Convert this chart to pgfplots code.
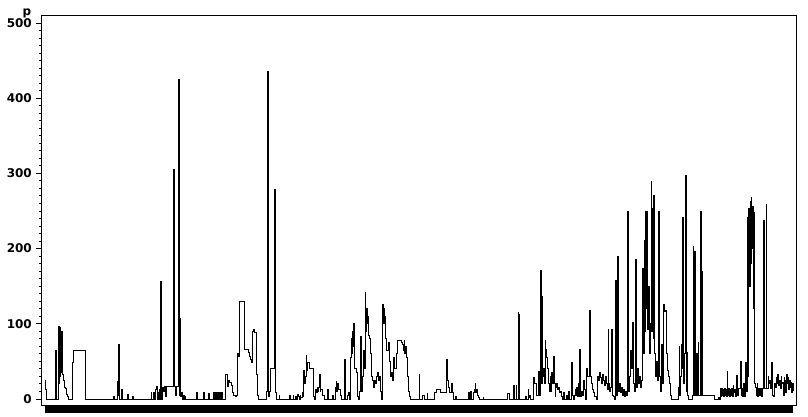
\documentclass[border=0pt]{standalone}
\usepackage{fontspec}
\setmainfont{DejaVu Sans}
\usepackage{pgfplots}
\usepackage{pgfplotstable}
\pgfplotsset{compat=1.18}
\pgfplotstableread{
x y
45 25
45.7 12
46.3 0
55.5 65
56.3 0
58.5 96
59.2 20
59.6 95
60.0 30
60.4 92
60.8 40
61.2 90
61.6 35
62.0 90
62.4 33
63.0 25
64.0 15
65.0 14
66.0 10
66.7 6
67.5 3
68.3 0
72.8 48
73.6 64
85.0 0
113.5 3
114.2 0
117.5 23
118.3 5
118.7 73
119.4 0
121.8 12
122.5 0
127.5 6
128.5 0
132.5 3
133.2 0
151.0 9
151.7 0
153.8 9
154.4 0
155.5 12
156.0 17
156.6 16
157.3 0
158.0 9
158.6 0
159.6 13
160.3 0
160.8 156
161.5 0
162.2 15
163.0 10
164.0 17
165.0 3
166.0 17
173.5 305
174.3 17
175.5 5
176.5 17
178.3 425
179.0 5
179.8 107
180.5 3
181.5 8
182.3 0
183.5 5
184.2 0
185.0 3
185.7 0
196.8 8
197.4 0
203.7 8
204.3 0
208.5 7
209.1 0
213.8 9
214.4 0
215.8 9
216.4 0
217.8 9
218.4 0
219.8 9
220.4 0
221.8 9
222.4 0
225.3 32
227.2 17
228.2 25
229.5 22
231.0 18
232.5 8
233.5 5
235.0 3
236.5 5
237.3 61
238.0 57
239.0 68
239.8 130
244.5 66
248.5 62
249.5 57
250.5 52
251.3 48
252.0 72
252.7 90
253.5 93
254.5 88
256.0 33
257.2 4
258.0 0
266.7 10
267.4 435
268.2 3
269.0 10
270.0 40
274.3 278
275.0 40
275.6 8
276.3 0
279.0 5
279.6 0
289.8 5
290.4 0
293.0 5
293.7 0
295.5 3
296.3 0
297.0 6
298.0 3
299.0 0
300.0 5
300.6 2
302.0 8
303.0 3
303.7 38
304.5 20
305.3 30
306.0 58
306.7 38
307.3 48
309.5 40
313.5 3
314.3 0
315.5 12
316.3 8
317.0 15
317.7 10
318.5 15
319.6 32
320.3 10
320.8 12
322.0 5
324.0 0
327.5 12
328.0 0
332.5 5
333.0 0
335.5 15
336.2 23
336.8 10
337.5 20
338.5 12
340.0 5
341.0 0
344.5 52
345.2 0
347.5 5
348.5 8
349.5 0
350.5 55
351.2 80
351.8 60
352.5 90
353.1 70
353.8 100
354.5 40
356.0 35
357.5 3
358.3 0
359.5 10
360.3 83
361.0 10
362.0 30
363.2 65
364.2 40
365.0 141
365.8 90
366.5 120
367.2 100
367.8 110
368.5 85
369.5 80
370.5 60
371.5 30
372.5 25
373.3 15
374.2 25
375.5 20
376.5 30
377.5 35
378.3 25
379.3 30
380.0 10
381.0 0
382.0 60
382.7 126
383.4 100
384.0 120
384.6 110
385.3 80
386.8 65
388.5 75
389.5 50
390.5 30
391.5 35
392.5 25
393.5 55
394.5 40
396.0 60
397.5 78
401.5 75
402.5 72
403.3 65
404.0 78
404.7 60
405.5 70
406.3 55
407.2 30
408.0 10
409.0 3
410.0 0
419.0 32
419.7 0
422.5 5
424.5 0
427.0 7
427.6 0
434.0 8
436.0 12
440.0 8
446.5 52
447.2 48
447.8 25
448.5 15
449.5 8
451.5 20
452.2 8
453.0 0
455.5 3
456.2 0
468.8 8
469.4 0
470.5 10
471.0 0
473.5 8
474.5 12
475.2 20
475.8 8
476.5 12
477.5 5
478.5 2
479.5 0
483.0 2
483.5 0
507.0 7
509.5 0
513.8 18
514.3 0
516.0 18
516.6 0
518.0 115
518.7 112
519.4 0
525.8 3
526.5 0
528.0 12
528.7 2
529.5 5
530.3 0
533.8 28
534.5 20
536.5 5
538.8 36
539.5 5
540.5 171
541.2 20
542.0 136
542.7 30
543.5 40
544.3 20
545.0 78
545.7 66
546.3 55
547.0 48
547.7 40
548.5 20
549.3 10
550.0 30
550.8 10
551.5 35
552.5 20
553.5 56
554.2 20
555.0 3
555.5 15
556.5 20
557.5 12
558.5 15
559.5 8
560.5 10
561.5 3
562.5 0
563.5 8
564.3 0
566.0 5
567.0 0
568.5 10
569.2 0
571.5 49
572.2 5
573.0 0
574.0 5
575.0 12
575.8 5
576.5 15
577.3 3
578.0 20
578.7 3
579.8 66
580.5 3
581.5 10
582.5 5
583.5 25
584.3 12
585.0 0
586.5 40
587.5 30
589.8 118
590.5 30
591.5 20
592.5 12
593.5 8
594.5 3
596.0 0
597.0 30
598.0 25
599.0 35
600.0 28
601.0 20
602.0 32
603.0 25
604.0 18
605.0 30
606.0 20
607.0 12
608.0 92
608.7 20
609.5 10
610.5 15
611.5 92
612.2 5
613.0 3
614.0 0
615.5 158
616.2 5
617.8 189
618.5 10
619.5 20
620.5 8
621.5 15
622.5 5
623.5 12
624.5 3
625.5 10
626.5 5
627.6 250
628.3 10
629.5 30
630.3 65
631.0 40
632.0 50
632.8 102
633.5 20
634.5 10
635.6 185
636.3 15
637.5 40
638.5 20
639.5 30
640.5 15
641.5 25
642.6 174
643.3 60
644.5 211
645.2 90
645.8 250
646.5 120
647.2 250
647.9 92
648.6 150
649.3 60
650.5 100
651.2 289
651.9 90
652.5 253
653.2 80
653.8 271
654.5 60
655.5 30
656.5 50
657.5 25
658.6 250
659.3 30
660.3 10
661.5 73
662.2 20
663.0 45
663.7 126
664.5 116
665.5 118
666.3 60
667.2 38
668.0 30
669.5 20
670.5 5
671.5 0
678.0 15
679.0 70
679.6 5
680.5 30
681.3 73
682.0 40
682.8 242
683.5 20
684.5 60
685.5 297
686.3 10
687.0 62
687.7 5
688.5 0
692.0 4
693.0 203
693.7 4
694.7 196
695.4 4
696.5 60
697.2 4
698.0 75
698.7 4
700.3 250
701.0 4
702.0 169
702.7 4
714.0 0
718.5 2
719.5 0
720.5 14
721.0 3
721.7 14
722.3 5
723.0 12
723.6 3
724.3 14
725.0 5
725.7 12
726.3 3
727.2 36
727.8 5
728.5 14
729.2 3
730.0 12
730.7 5
731.5 14
732.2 3
733.0 18
733.7 8
734.5 12
735.2 3
736.0 14
736.8 31
737.5 5
738.3 14
739.0 14
740.5 50
741.2 5
742.0 14
742.8 3
743.5 20
744.3 3
745.5 49
746.3 10
747.3 242
748.0 30
748.7 254
749.3 150
750.0 262
750.6 180
751.2 268
751.8 200
752.4 256
753.0 120
753.6 248
754.3 20
755.0 15
756.0 5
757.0 20
757.7 3
758.5 14
759.5 5
760.5 14
761.5 3
762.0 14
763.8 237
764.5 14
766.2 259
766.9 14
768.0 30
768.7 20
769.5 25
770.5 14
771.5 49
772.2 5
773.0 3
774.0 20
775.0 15
776.0 28
776.7 20
777.5 32
778.3 18
779.0 25
780.0 14
781.0 30
781.7 20
782.5 22
783.3 5
784.0 28
784.8 25
785.5 8
786.5 32
787.2 20
788.0 28
788.8 12
789.5 25
790.3 15
791.0 22
791.7 8
792.5 20
793.2 10
}\pdata
\begin{document}
\begin{tikzpicture}[x=1pt,y=1pt]
\useasboundingbox (0,0) rectangle (808,417);
\begin{axis}[
  at={(41pt,11pt)}, anchor=south west,
  scale only axis,
  width=755pt, height=390.5pt,
  xmin=41, xmax=796,
  ymin=-9.3, ymax=510,
  axis line style={line width=1pt, black},
  tick align=outside,
  ytick={0,100,...,500},
  minor y tick num=9,
  ytick pos=left,
  xtick pos=bottom,
  xtick={46,48,...,792},
  xticklabels={},
  major tick length=5pt,
  minor tick length=2.5pt,
  ytick style={line width=1pt, black},
  xtick style={line width=2.2pt, black, /pgfplots/major tick length=7pt},
  yticklabel style={font=\fontsize{12}{14}\selectfont\bfseries, inner sep=0pt, anchor=east, xshift=-4pt},
  /pgf/number format/assume math mode=true,
  clip=true,
]
\addplot[const plot, black, line width=1pt] table[x=x, y=y] {\pdata};
\end{axis}
\node[anchor=base, font=\fontsize{12}{14}\selectfont\bfseries, inner sep=0pt] at (27,401) {p};
\end{tikzpicture}
\end{document}
